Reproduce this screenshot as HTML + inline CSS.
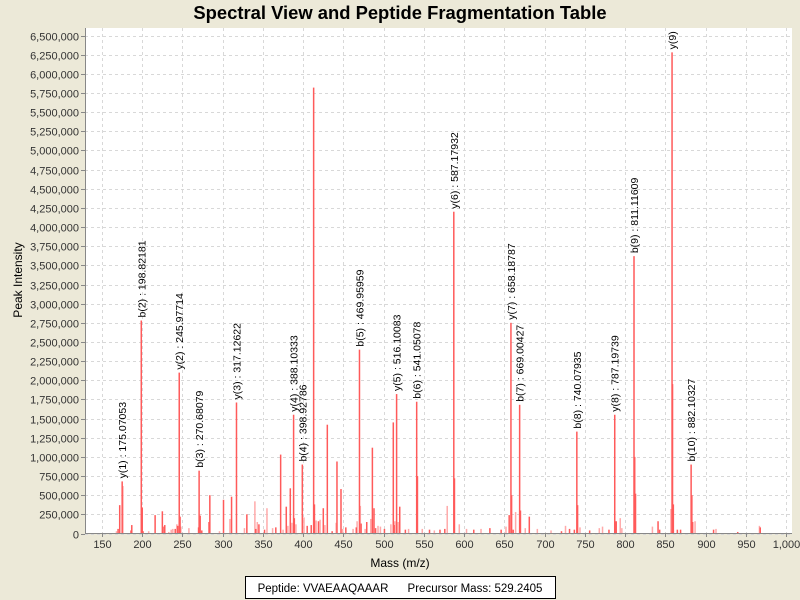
<!DOCTYPE html>
<html><head><meta charset="utf-8"><style>
html,body{margin:0;background:#ECE9D8;font-family:"Liberation Sans",sans-serif;overflow:hidden;width:800px;height:600px;}
svg{display:block;}
svg text{font-family:"Liberation Sans",sans-serif;}
</style></head><body>
<svg id="chart" width="800" height="600" xmlns="http://www.w3.org/2000/svg">
<rect x="0" y="0" width="800" height="600" fill="#ECE9D8"/>
<text x="400" y="19" text-anchor="middle" font-size="18.4" font-weight="bold">Spectral View and Peptide Fragmentation Table</text>
<defs><clipPath id="pc"><rect x="85" y="28" width="707" height="505.5"/></clipPath></defs>
<rect x="85" y="28" width="707" height="505.5" fill="#fff"/>
<g id="grid"></g>
<g id="peaks" clip-path="url(#pc)"></g>
<g id="labels" clip-path="url(#pc)"></g>
<g id="axes"></g>
<text x="400" y="567" text-anchor="middle" font-size="12">Mass (m/z)</text>
<text transform="translate(22,280) rotate(-90)" text-anchor="middle" font-size="12">Peak Intensity</text>
<g>
<rect x="245.5" y="576.5" width="310" height="22" fill="#fff" stroke="#000"/>
<text x="400" y="592" text-anchor="middle" font-size="11.5" xml:space="preserve">Peptide: VVAEAAQAAAR      Precursor Mass: 529.2405</text>
</g>
</svg>
<script>
const strongMasses=[170,172,175.07,186,187,198.82,200,201,216,225,227,228,241,244,245.98,247,270,270.68,272,274,283,284,301,311,317.13,330,341,345,352,366,372,379,384,388.10,389,398.93,405,410,413,414,419,425,430,436,442,447,453,466,469.96,472,479,486,488,490,501,512,513,516.10,520,527,541.05,542,557,570,576,587.18,588,612,632,646,656,658.19,659,661,669.00,670,681,721,731,737,740.08,741,756,780,787.17,789,811.12,812,813,841,843,858.4,859,860,865,869,882.10,883,884,910,940,968];
const strongValues=[60,370,680,40,110,2780,340,30,240,290,90,110,60,100,2100,220,80,820,230,40,150,500,440,480,1710,250,60,120,50,80,1030,350,590,1550,200,900,100,110,5820,380,160,330,1420,30,940,580,80,80,2400,130,150,1120,330,70,60,1450,110,1820,350,50,1720,750,50,50,60,4200,720,50,70,50,240,2750,500,50,1680,300,220,30,60,50,1330,370,40,50,1550,160,3620,1000,520,160,50,6280,1950,380,50,50,900,500,150,50,20,80];
const lightMasses=[168,176,199.5,208,233,236,238,243,248,258,271.5,296,309,327,340,343,355,362,375,381,386,391,401,416,421,427,441,449,462,467,471,477,484,493,496,509,514,518,531,548,563,579,594,603,621,652,664,676,691,708,726,744,768,772,794,796,834,857,887,913,967];
const lightValues=[30,620,180,30,20,50,60,120,90,70,250,30,190,70,420,150,330,70,50,100,140,120,210,170,180,110,140,60,60,160,360,60,190,100,90,120,160,150,60,60,40,360,120,60,60,90,280,70,60,40,100,80,70,90,200,70,90,320,160,60,100];
const labelMasses=[175.07,198.82,245.98,270.68,317.13,388.10,398.93,469.96,516.10,541.05,587.18,658.19,669.00,740.08,787.17,811.12,858.4,882.10];
const labelValues=[680,2780,2100,820,1710,1550,900,2400,1820,1720,4200,2750,1680,1330,1550,3620,6280,900];
const labelTexts=["y(1) : 175.07053","b(2) : 198.82181","y(2) : 245.97714","b(3) : 270.68079","y(3) : 317.12622","y(4) : 388.10333","b(4) : 398.92786","b(5) : 469.95959","y(5) : 516.10083","b(6) : 541.05078","y(6) : 587.17932","y(7) : 658.18787","b(7) : 669.00427","b(8) : 740.07935","y(8) : 787.19739","b(9) : 811.11609","y(9) : 858.41000","b(10) : 882.10327"];
const xTicks=[150,200,250,300,350,400,450,500,550,600,650,700,750,800,850,900,950,1000];
const yTicks=[0,250000,500000,750000,1000000,1250000,1500000,1750000,2000000,2250000,2500000,2750000,3000000,3250000,3500000,3750000,4000000,4250000,4500000,4750000,5000000,5250000,5500000,5750000,6000000,6250000,6500000];

const NS="http://www.w3.org/2000/svg";
const X=m=>102+(m-150)*(684/850);
const Y=v=>533.5-v*(498/6500000);
function mk(t,a,p){const e=document.createElementNS(NS,t);for(const k in a)e.setAttribute(k,a[k]);p.appendChild(e);return e;}
const grid=document.getElementById('grid'),axes=document.getElementById('axes'),pk=document.getElementById('peaks'),lb=document.getElementById('labels');
xTicks.forEach(t=>{const x=Math.round(X(t))+0.5;
 const g=mk('line',{x1:x,x2:x,y1:28,y2:533,stroke:'#d8d8d8','stroke-dasharray':'3,3'},grid);
 
 
 const tk=mk('line',{x1:x,x2:x,y1:533.5,y2:537,stroke:'#888'},axes);
 
 
 const tx=mk('text',{x:x,y:548,'text-anchor':'middle','font-size':11,fill:'#333'},axes);
 tx.textContent=t.toLocaleString('en-US');
 
 });
yTicks.forEach(t=>{const y=Math.round(Y(t))+0.5;
 const g=mk('line',{x1:85,x2:792,y1:y,y2:y,stroke:'#d8d8d8','stroke-dasharray':'3,3'},grid);
 
 
 const tk=mk('line',{x1:81,x2:85,y1:y,y2:y,stroke:'#888'},axes);
 
 
 const tx=mk('text',{x:79,y:y+4,'text-anchor':'end','font-size':11,fill:'#333'},axes);
 tx.textContent=t.toLocaleString('en-US');
 
 });
const ax=mk('path',{d:'M85.5,28 V533.5 H792',stroke:'#888',fill:'none'},axes);


lightMasses.forEach((m,i)=>{const r=mk('rect',{x:X(m)-0.75,y:Y(lightValues[i]*1000),width:1.5,height:533.5-Y(lightValues[i]*1000),fill:'#ffaaaa'},pk);
 
 });
strongMasses.forEach((m,i)=>{const r=mk('rect',{x:X(m)-0.75,y:Y(strongValues[i]*1000),width:1.5,height:533.5-Y(strongValues[i]*1000),fill:'#ff5a5a'},pk);
 
 });
labelMasses.forEach((m,i)=>{const x=X(m)+4,y=Y(labelValues[i]*1000)-3;
 const t=mk('text',{transform:`translate(${x},${y}) rotate(-90)`,'font-size':10.5,fill:'#000'},lb);
 t.textContent=labelTexts[i];
 
 });
</script>
</body></html>
